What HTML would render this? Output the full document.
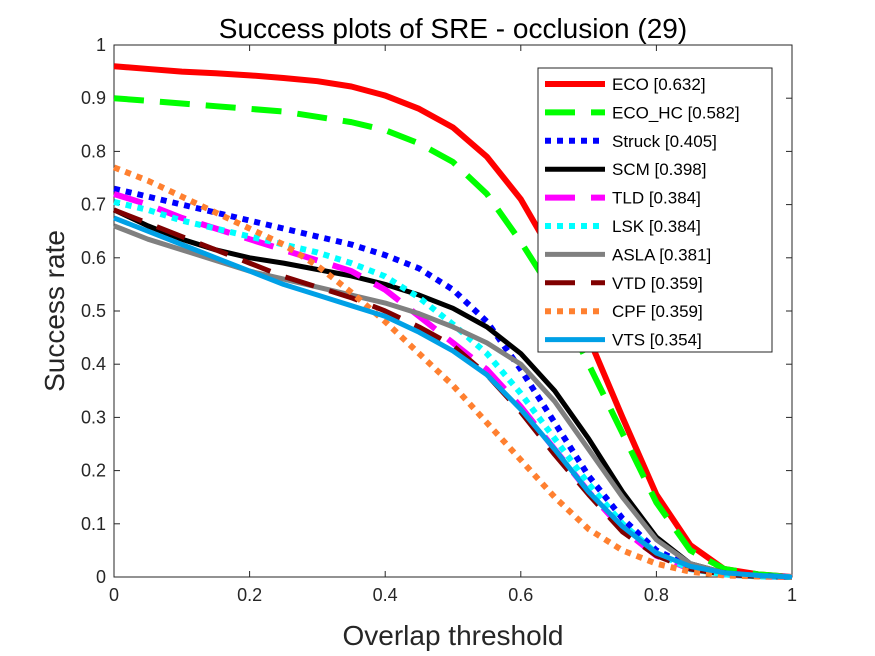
<!DOCTYPE html>
<html><head><meta charset="utf-8"><style>
body{margin:0;background:#fff;}
svg{display:block;font-family:"Liberation Sans",sans-serif;}
</style></head><body>
<svg id="chart" width="875" height="656" viewBox="0 0 875 656">
<rect width="875" height="656" fill="#fff"/>
<text x="453" y="38" font-size="28" text-anchor="middle" fill="#000">Success plots of SRE - occlusion (29)</text>
<text x="453" y="645" font-size="28" text-anchor="middle" fill="#262626">Overlap threshold</text>
<text transform="translate(64,311) rotate(-90)" font-size="28" text-anchor="middle" fill="#262626">Success rate</text>
<g id="axes"></g>
<g id="series"></g>
<g id="legend"></g>
</svg>
<script>
const thresholds=[0,0.05,0.1,0.15,0.2,0.25,0.3,0.35,0.4,0.45,0.5,0.55,0.6,0.65,0.7,0.75,0.8,0.85,0.9,0.95,1];
const xTicks=[0,0.2,0.4,0.6,0.8,1];
const yTicks=[0,0.1,0.2,0.3,0.4,0.5,0.6,0.7,0.8,0.9,1];
const names=["ECO [0.632]","ECO_HC [0.582]","Struck [0.405]","SCM [0.398]","TLD [0.384]","LSK [0.384]","ASLA [0.381]","VTD [0.359]","CPF [0.359]","VTS [0.354]"];
const eco=[0.96,0.955,0.95,0.947,0.943,0.938,0.932,0.922,0.905,0.88,0.845,0.79,0.71,0.60,0.45,0.30,0.155,0.06,0.015,0.005,0.0];
const ecoHc=[0.90,0.895,0.89,0.885,0.88,0.875,0.865,0.855,0.84,0.815,0.78,0.72,0.63,0.53,0.40,0.27,0.14,0.05,0.015,0.005,0];
const struck=[0.73,0.715,0.70,0.685,0.67,0.655,0.64,0.625,0.605,0.58,0.54,0.48,0.39,0.29,0.19,0.11,0.05,0.02,0.007,0.002,0];
const scm=[0.69,0.66,0.635,0.615,0.60,0.59,0.578,0.566,0.55,0.53,0.505,0.47,0.42,0.35,0.26,0.16,0.075,0.025,0.008,0.002,0];
const tld=[0.72,0.70,0.675,0.655,0.635,0.615,0.595,0.575,0.54,0.49,0.44,0.39,0.32,0.24,0.16,0.09,0.04,0.015,0.005,0.001,0];
const lsk=[0.705,0.69,0.67,0.655,0.64,0.625,0.61,0.59,0.565,0.525,0.475,0.42,0.345,0.26,0.175,0.10,0.045,0.015,0.005,0.001,0];
const asla=[0.66,0.635,0.615,0.595,0.575,0.56,0.545,0.53,0.515,0.495,0.47,0.44,0.40,0.33,0.24,0.15,0.07,0.025,0.008,0.002,0];
const vtd=[0.69,0.665,0.64,0.615,0.59,0.565,0.545,0.525,0.50,0.47,0.435,0.38,0.31,0.23,0.155,0.085,0.04,0.015,0.005,0.001,0];
const cpf=[0.77,0.745,0.715,0.685,0.655,0.625,0.585,0.535,0.48,0.42,0.36,0.29,0.22,0.15,0.09,0.05,0.025,0.01,0.003,0.001,0];
const vts=[0.675,0.65,0.625,0.60,0.575,0.55,0.53,0.51,0.49,0.46,0.425,0.38,0.315,0.24,0.16,0.095,0.045,0.02,0.008,0.003,0];
const seriesValues=[eco,ecoHc,struck,scm,tld,lsk,asla,vtd,cpf,vts];

const styles=[
 {c:"#ff0000",w:6,d:""},{c:"#00ff00",w:6,d:"30,16"},{c:"#0000ff",w:6,d:"6,6"},{c:"#000000",w:5,d:""},
 {c:"#ff00ff",w:6,d:"30,16"},{c:"#00ffff",w:6,d:"6,6"},{c:"#808080",w:5,d:""},{c:"#800000",w:5,d:"30,16"},
 {c:"#ff8030",w:6,d:"6,6"},{c:"#00a0e6",w:5,d:""}];
const X0=114,X1=792,Y0=577,Y1=45;
const xs=v=>X0+(X1-X0)*v, ys=v=>Y0-(Y0-Y1)*v;
const NS="http://www.w3.org/2000/svg";
function mk(tag,attrs,parent){const e=document.createElementNS(NS,tag);for(const k in attrs)e.setAttribute(k,attrs[k]);parent.appendChild(e);return e;}
const axes=document.getElementById('axes'),series=document.getElementById('series'),legend=document.getElementById('legend');
const frame=mk('rect',{x:X0,y:Y1,width:X1-X0,height:Y0-Y1,fill:'none',stroke:'#262626','stroke-width':1},axes);


xTicks.forEach(t=>{
 const l=mk('line',{x1:xs(t),x2:xs(t),y1:Y0,y2:Y0-6,stroke:'#262626'},axes);
 
 
 mk('line',{x1:xs(t),x2:xs(t),y1:Y1,y2:Y1+6,stroke:'#262626'},axes);
 const tx=mk('text',{x:xs(t),y:Y0+24,'font-size':18,'text-anchor':'middle',fill:'#262626'},axes);tx.textContent=String(t);
 
 
});
yTicks.forEach(t=>{
 const l=mk('line',{x1:X0,x2:X0+6,y1:ys(t),y2:ys(t),stroke:'#262626'},axes);
 
 
 mk('line',{x1:X1,x2:X1-6,y1:ys(t),y2:ys(t),stroke:'#262626'},axes);
 const tx=mk('text',{x:X0-8,y:ys(t)+6,'font-size':18,'text-anchor':'end',fill:'#262626'},axes);tx.textContent=String(t);
 
 
});
seriesValues.forEach((vals,i)=>{
 const s=styles[i];
 const p=mk('polyline',{points:vals.map((v,j)=>xs(thresholds[j])+','+ys(v)).join(' '),fill:'none',stroke:s.c,'stroke-width':s.w,'stroke-dasharray':s.d,'stroke-linejoin':'round'},series);
 
 
});
const box=mk('rect',{x:538,y:68,width:234,height:284,fill:'#fff',stroke:'#262626','stroke-width':1},legend);


names.forEach((n,i)=>{
 const s=styles[i],y=84+i*28.4;
 const l=mk('line',{x1:545,x2:605,y1:y,y2:y,stroke:s.c,'stroke-width':s.w,'stroke-dasharray':s.d},legend);
 
 
 const t=mk('text',{x:612,y:y+6,'font-size':17,fill:'#000'},legend);t.textContent=n;
 
 
});
</script>
</body></html>
